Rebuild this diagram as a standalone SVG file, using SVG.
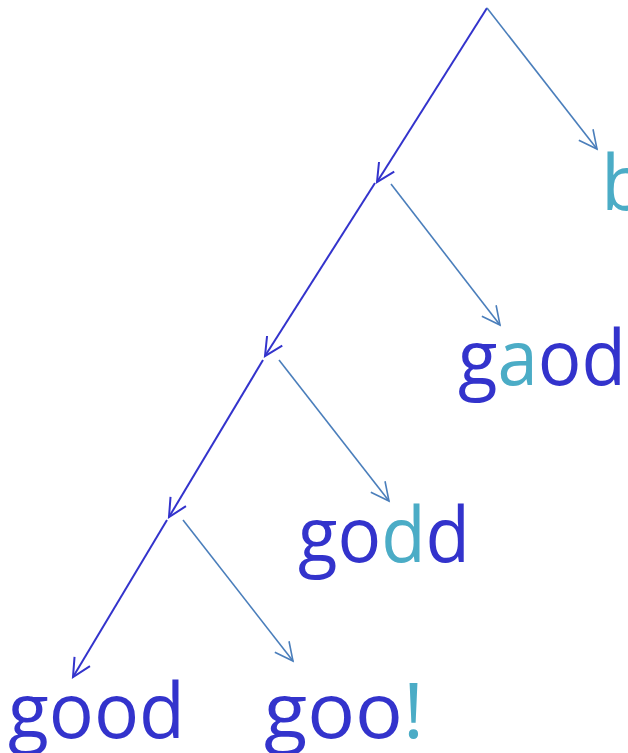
<svg xmlns="http://www.w3.org/2000/svg" width="628" height="753" viewBox="0 0 628 753">
  <style>
    .dark { stroke: #3333CC; stroke-width: 2; fill: none; }
    .light { stroke: #4A7EBB; stroke-width: 1.6; fill: none; }
    .lbl { font-family: "Open Sans", "Noto Sans", sans-serif; font-size: 76px; fill: #3333CC; }
    .hl { fill: #4BACC6; }
  </style>
  <defs>
    <marker id="arrDark" markerUnits="userSpaceOnUse" markerWidth="30" markerHeight="30" viewBox="-25 -15 30 30" refX="0" refY="0" orient="auto">
      <path d="M -18 -9 L 0 0 L -18 9" fill="none" stroke="#3333CC" stroke-width="2"/>
    </marker>
    <marker id="arrLight" markerUnits="userSpaceOnUse" markerWidth="30" markerHeight="30" viewBox="-25 -15 30 30" refX="0" refY="0" orient="auto">
      <path d="M -18 -9 L 0 0 L -18 9" fill="none" stroke="#4A7EBB" stroke-width="1.6"/>
    </marker>
  </defs>
  <g id="connectors">
    <line class="dark" x1="487" y1="8" x2="377" y2="182" marker-end="url(#arrDark)"/>
    <line class="light" x1="487" y1="8" x2="597" y2="149" marker-end="url(#arrLight)"/>
    <line class="dark" x1="375" y1="183" x2="265" y2="356" marker-end="url(#arrDark)"/>
    <line class="light" x1="391" y1="184" x2="500" y2="325" marker-end="url(#arrLight)"/>
    <line class="dark" x1="263" y1="360" x2="169" y2="517" marker-end="url(#arrDark)"/>
    <line class="light" x1="279" y1="360" x2="389" y2="501" marker-end="url(#arrLight)"/>
    <line class="dark" x1="167" y1="520" x2="73" y2="677" marker-end="url(#arrDark)"/>
    <line class="light" x1="183" y1="520" x2="293" y2="661" marker-end="url(#arrLight)"/>
  </g>
  <g id="node-b">
    <text class="lbl hl" x="601" y="210">b</text>
  </g>
  <g id="node-gaod">
    <text class="lbl" x="458" y="385" textLength="168" lengthAdjust="spacingAndGlyphs">g<tspan class="hl">a</tspan>od</text>
  </g>
  <g id="node-godd">
    <text class="lbl" x="298" y="562" textLength="172" lengthAdjust="spacingAndGlyphs">go<tspan class="hl">d</tspan>d</text>
  </g>
  <g id="node-good">
    <text class="lbl" x="8" y="738" textLength="177" lengthAdjust="spacingAndGlyphs">good</text>
  </g>
  <g id="node-goo">
    <text class="lbl" x="264" y="738" textLength="160" lengthAdjust="spacingAndGlyphs">goo<tspan class="hl">!</tspan></text>
  </g>
</svg>
